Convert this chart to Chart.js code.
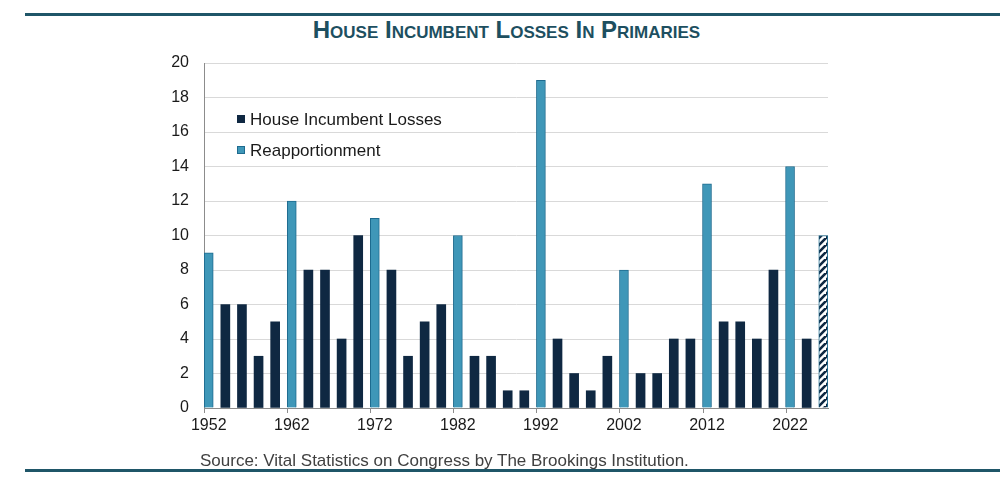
<!DOCTYPE html>
<html>
<head>
<meta charset="utf-8">
<script src="https://cdn.jsdelivr.net/npm/chart.js@4.4.1/dist/chart.umd.min.js"></script>
<style>
  body { margin: 0; background: #fff; }
  #wrap { position: relative; width: 1000px; height: 489px; overflow: hidden; }
  #chart { position: absolute; left: 0; top: 0; }
  .rule { position: absolute; left: 25px; width: 975px; height: 3px; background: #1f5668; }
  #title {
    position: absolute; left: 0; top: 16px; width: 1013px; text-align: center;
    font-family: "Liberation Sans Narrow", "Arial Narrow", "Liberation Sans", Arial, sans-serif;
    font-weight: bold; font-size: 24px; font-variant: small-caps; color: #1d4f60;
  }
  #source {
    position: absolute; left: 200px; top: 451px;
    font-family: "Liberation Sans", Arial, sans-serif; font-size: 17px; color: #404040;
  }
</style>
</head>
<body>
<div id="wrap">
  <div class="rule" style="top:13px"></div>
  <div id="title">House Incumbent Losses In Primaries</div>
  <canvas id="chart" width="1000" height="489"></canvas>
  <div id="source">Source: Vital Statistics on Congress by The Brookings Institution.</div>
  <div class="rule" style="top:469px"></div>
</div>
<script>
let years = [1952, 1954, 1956, 1958, 1960, 1962, 1964, 1966, 1968, 1970,
             1972, 1974, 1976, 1978, 1980, 1982, 1984, 1986, 1988, 1990,
             1992, 1994, 1996, 1998, 2000, 2002, 2004, 2006, 2008, 2010,
             2012, 2014, 2016, 2018, 2020, 2022, 2024, 2026]
let losses = [9, 6, 6, 3, 5, 12, 8, 8, 4, 10,
              11, 8, 3, 5, 6, 10, 3, 3, 1, 1,
              19, 4, 2, 1, 3, 8, 2, 2, 4, 4,
              13, 5, 5, 4, 8, 14, 4, 10]
let reapportionmentYears = [1952, 1962, 1972, 1982, 1992, 2002, 2012, 2022]
let projectedYears = [2026]
let tickYears = [1952, 1962, 1972, 1982, 1992, 2002, 2012, 2022]
let yTicks = [0, 2, 4, 6, 8, 10, 12, 14, 16, 18, 20]

let navy = "#0f2842"
let lightBlue = "#3f97b8"
let edgeBlue = "#1e6b8f"
let barW = 9

function pointsFor(test){
    return years.map((yr, i) => ({x: yr, y: losses[i]})).filter(p => test(p.x))
}

function makeHatch(){
    let n = 7
    let c = document.createElement("canvas")
    c.width = n
    c.height = n
    let g = c.getContext("2d")
    g.fillStyle = "#fff"
    g.fillRect(0, 0, n, n)
    g.strokeStyle = navy
    g.lineWidth = 2.6
    g.beginPath()
    g.moveTo(-1, n + 1); g.lineTo(n + 1, -1)
    g.moveTo(-n - 1, n + 1); g.lineTo(1, -1)
    g.moveTo(n - 1, 2 * n + 1); g.lineTo(2 * n + 1, n - 1)
    g.stroke()
    return g.createPattern(c, "repeat")
}

// legend inside the plot + tick marks at the left edge of each labelled bar
let extras = {
    id: "extras",
    afterDraw(chart){
        let ctx = chart.ctx
        let x = chart.scales.x
        let y = chart.scales.y
        ctx.save()
        ctx.strokeStyle = "#8c8c8c"
        ctx.lineWidth = 1
        tickYears.forEach(t => {
            let px = Math.round(x.getPixelForValue(t) - barW / 2) + 0.5
            ctx.beginPath()
            ctx.moveTo(px, y.bottom)
            ctx.lineTo(px, y.bottom + 5)
            ctx.stroke()
        })
        let items = [
            {text: "House Incumbent Losses", fill: navy, edge: navy},
            {text: "Reapportionment", fill: lightBlue, edge: edgeBlue}
        ]
        ctx.font = "17px 'Liberation Sans', Arial, sans-serif"
        ctx.textBaseline = "middle"
        items.forEach((it, i) => {
            let cy = 119 + i * 31
            ctx.fillStyle = it.fill
            ctx.fillRect(237, cy - 4, 8, 8)
            ctx.strokeStyle = it.edge
            ctx.strokeRect(237.5, cy - 3.5, 7, 7)
            ctx.fillStyle = "#1a1a1a"
            ctx.fillText(it.text, 250, cy + 1)
        })
        ctx.restore()
    }
}

let barBase = {barThickness: barW, grouped: false, borderSkipped: "start"}

new Chart(document.getElementById("chart"), {
    type: "bar",
    data: {
        datasets: [
            Object.assign({
                label: "House Incumbent Losses",
                data: pointsFor(yr => !reapportionmentYears.includes(yr) && !projectedYears.includes(yr)),
                backgroundColor: navy,
                borderWidth: 0
            }, barBase),
            Object.assign({
                label: "Reapportionment",
                data: pointsFor(yr => reapportionmentYears.includes(yr)),
                backgroundColor: lightBlue,
                borderColor: edgeBlue,
                borderWidth: 1
            }, barBase),
            Object.assign({
                label: "Projected",
                data: pointsFor(yr => projectedYears.includes(yr)),
                backgroundColor: makeHatch(),
                borderColor: edgeBlue,
                borderWidth: 1
            }, barBase)
        ]
    },
    options: {
        responsive: false,
        animation: false,
        layout: {padding: {left: 0, right: 172, top: 63, bottom: 0}},
        plugins: {legend: {display: false}, tooltip: {enabled: false}},
        scales: {
            x: {
                type: "linear",
                offset: false,
                min: 1951.43,
                max: 2026.57,
                afterBuildTicks: s => { s.ticks = tickYears.map(v => ({value: v})) },
                afterFit: s => { s.height = 81 },
                grid: {drawOnChartArea: false, color: "transparent", tickLength: 5, offset: false},
                border: {color: "#8c8c8c", width: 1},
                ticks: {
                    autoSkip: false,
                    maxRotation: 0,
                    padding: 3,
                    color: "#1a1a1a",
                    font: {family: "'Liberation Sans', Arial, sans-serif", size: 16},
                    callback: v => String(v)
                }
            },
            y: {
                min: 0,
                max: 20,
                afterBuildTicks: s => { s.ticks = yTicks.map(v => ({value: v})) },
                afterFit: s => { s.width = 204 },
                grid: {color: "#d9d9d9", drawTicks: false},
                border: {color: "#8c8c8c", width: 1},
                ticks: {
                    padding: 15,
                    color: "#1a1a1a",
                    font: {family: "'Liberation Sans', Arial, sans-serif", size: 16}
                }
            }
        }
    },
    plugins: [extras]
})
</script>
</body>
</html>
